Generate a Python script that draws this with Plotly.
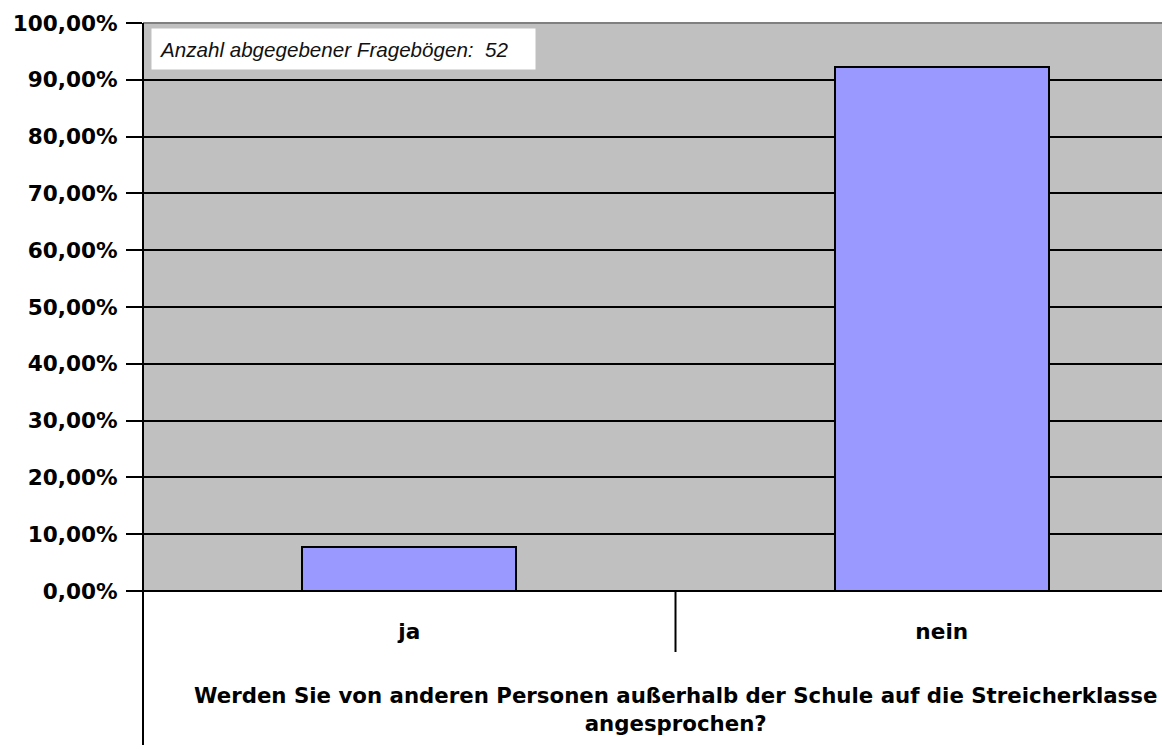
import plotly.graph_objects as go

categories = ["ja", "nein"]
values = [7.69, 92.31]  # percent of 52 questionnaires
y_tickvals = [0, 10, 20, 30, 40, 50, 60, 70, 80, 90, 100]
y_ticktext = ["0,00%", "10,00%", "20,00%", "30,00%", "40,00%", "50,00%",
              "60,00%", "70,00%", "80,00%", "90,00%", "100,00%"]
note_text = "Anzahl abgegebener Fragebögen:\u00a0 52"
title_text = "Werden Sie von anderen Personen außerhalb der Schule auf die Streicherklasse<br>angesprochen?"

W, H = 1162, 749
ML, MR, MT, MB = 143, 0, 23, 158
x_range = [-0.5, 1.4136]
plot_h = H - MT - MB

FONT = "DejaVu Sans"

fig = go.Figure()
fig.add_trace(go.Bar(
    x=categories, y=values, width=0.402,
    marker=dict(color="#9999FF", line=dict(color="black", width=2)),
    hoverinfo="x+y",
))

def xpaper(v):
    return (v - x_range[0]) / (x_range[1] - x_range[0])

shapes = [
    # top border of plot area (gray)
    dict(type="line", xref="paper", yref="paper", x0=0, x1=1, y0=1, y1=1,
         line=dict(color="#808080", width=2)),
    # y axis line extending below plot area
    dict(type="line", xref="paper", yref="paper", x0=0, x1=0, y0=1,
         y1=-(745 - (H - MB)) / plot_h, line=dict(color="black", width=2)),
    # category divider tick
    dict(type="line", xref="paper", yref="paper", x0=xpaper(0.5), x1=xpaper(0.5),
         y0=0, y1=-61 / plot_h, line=dict(color="black", width=2)),
]

annotations = [
    dict(text=note_text, xref="paper", yref="paper",
         x=(151 - ML) / (W - ML), y=1 - (28 - MT) / plot_h,
         xanchor="left", yanchor="top", showarrow=False, align="left",
         bgcolor="white", borderpad=7, width=369, height=26,
         font=dict(family="Liberation Sans", size=20.6, style="italic", color="#111")),
    dict(text=title_text, xref="paper", yref="paper",
         x=xpaper(0.5), y=-(681 - (H - MB)) / plot_h,
         xanchor="center", yanchor="top", showarrow=False, align="center",
         font=dict(family=FONT, size=21.3, weight="bold", color="black")),
]

fig.update_layout(
    width=W, height=H,
    margin=dict(l=ML, r=MR, t=MT, b=MB, pad=0),
    paper_bgcolor="white", plot_bgcolor="#C0C0C0",
    showlegend=False,
    bargap=0,
    shapes=shapes, annotations=annotations,
    xaxis=dict(
        type="category", range=x_range, showgrid=False, zeroline=False,
        showline=False, ticks="", ticklabelstandoff=25,
        tickfont=dict(family=FONT, size=21.6, weight="bold", color="black"),
        fixedrange=True,
    ),
    yaxis=dict(
        range=[0, 100], tickvals=y_tickvals, ticktext=y_ticktext,
        showgrid=True, gridcolor="black", gridwidth=1.5,
        zeroline=True, zerolinecolor="black", zerolinewidth=2,
        showline=False,
        ticks="outside", ticklen=16, tickwidth=2, tickcolor="black",
        ticklabelstandoff=4,
        tickfont=dict(family=FONT, size=21.6, weight="bold", color="black"),
        fixedrange=True,
    ),
)

fig.write_html(
    "out.html",
    config={"displayModeBar": False},
    post_script="document.body.style.margin='0';document.body.style.overflow='hidden';",
)
